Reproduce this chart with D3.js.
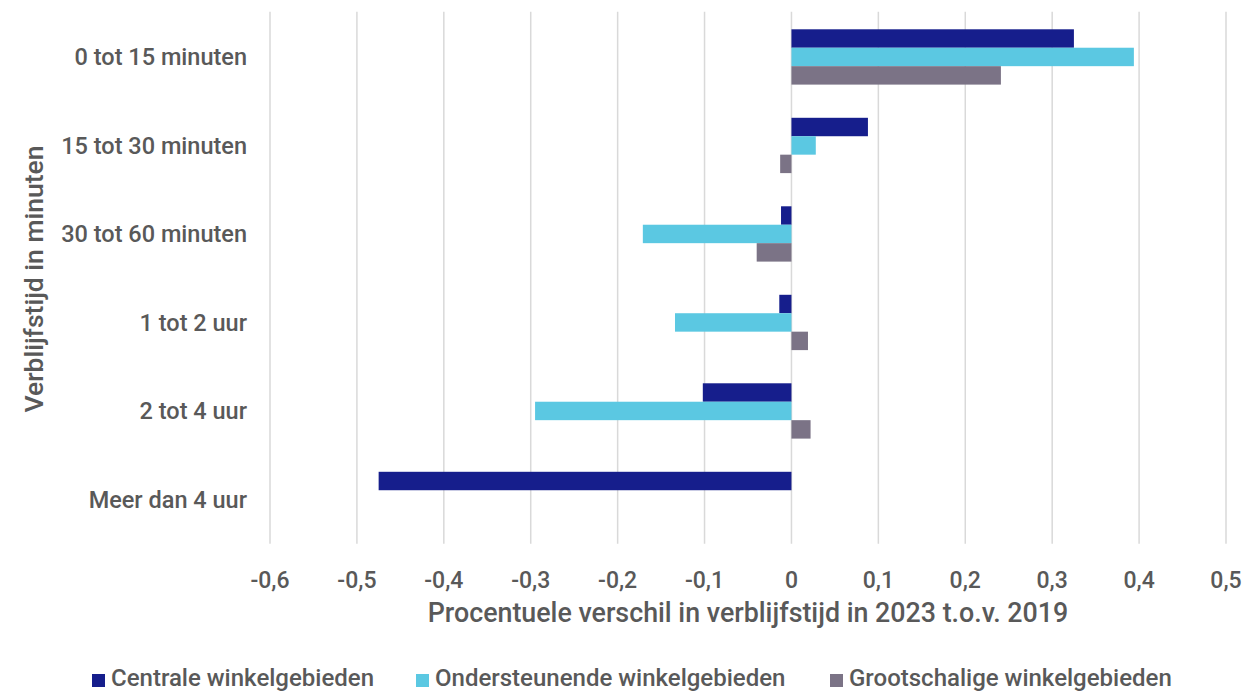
<!DOCTYPE html>
<html>
<head>
<meta charset="utf-8">
<script src="https://cdn.jsdelivr.net/npm/d3@7"></script>
<style>
  body { margin: 0; background: #fff; }
  svg { display: block; font-family: Roboto, "Noto Sans", sans-serif; font-weight: 500; }
</style>
</head>
<body>
<svg id="chart" width="1245" height="692"></svg>
<script>
// categories (top to bottom)
var categories = ["0 tot 15 minuten", "15 tot 30 minuten", "30 tot 60 minuten", "1 tot 2 uur", "2 tot 4 uur", "Meer dan 4 uur"];
var seriesNames = ["Centrale winkelgebieden", "Ondersteunende winkelgebieden", "Grootschalige winkelgebieden"];
var seriesColors = ["#161e8c", "#5bc8e2", "#7b7386"];
// values per series, same order as categories (null = no bar)
var centrale = [0.325, 0.088, -0.012, -0.014, -0.102, -0.475];
var ondersteunende = [0.394, 0.028, -0.171, -0.134, -0.295, null];
var grootschalig = [0.241, -0.013, -0.040, 0.019, 0.022, null];
var xTicks = [-0.6, -0.5, -0.4, -0.3, -0.2, -0.1, 0, 0.1, 0.2, 0.3, 0.4, 0.5];

var allSeries = [centrale, ondersteunende, grootschalig];

var svg = d3.select("#chart");
var textColor = "#595959";

var plotTop = 12.7, plotBottom = 543.7;
var x = d3.scaleLinear().domain([-0.6, 0.5]).range([270, 1226]);

var y0 = d3.scaleBand()
  .domain(categories)
  .range([plotTop, plotBottom])
  .paddingInner(0.375)
  .paddingOuter(0.1875);

var y1 = d3.scaleBand()
  .domain(d3.range(seriesNames.length))
  .range([0, y0.bandwidth()]);

// dutch style numbers, plain hyphen as minus
var fmt = function (d) {
  if (d === 0) return "0";
  return (d < 0 ? "-" : "") + Math.abs(d).toFixed(1).replace(".", ",");
};

// gridlines
svg.append("g")
  .selectAll("line")
  .data(xTicks)
  .enter().append("line")
  .attr("x1", function (d) { return x(d); })
  .attr("x2", function (d) { return x(d); })
  .attr("y1", plotTop - 1)
  .attr("y2", plotBottom)
  .attr("stroke", "#d9d9d9")
  .attr("stroke-width", 1.5);

// bars
var rows = [];
categories.forEach(function (c, i) {
  allSeries.forEach(function (s, j) {
    if (s[i] !== null) rows.push({cat: c, series: j, value: s[i]});
  });
});

svg.append("g")
  .selectAll("rect")
  .data(rows)
  .enter().append("rect")
  .attr("x", function (d) { return x(Math.min(0, d.value)); })
  .attr("width", function (d) { return Math.abs(x(d.value) - x(0)); })
  .attr("y", function (d) { return y0(d.cat) + y1(d.series); })
  .attr("height", y1.bandwidth())
  .attr("fill", function (d) { return seriesColors[d.series]; });

// x tick labels
svg.append("g")
  .selectAll("text")
  .data(xTicks)
  .enter().append("text")
  .attr("x", function (d) { return x(d); })
  .attr("y", 588)
  .attr("text-anchor", "middle")
  .attr("font-size", 23)
  .attr("fill", textColor)
  .text(fmt);

// category labels
svg.append("g")
  .selectAll("text")
  .data(categories)
  .enter().append("text")
  .attr("x", 247)
  .attr("y", function (d) { return y0(d) + y0.bandwidth() / 2; })
  .attr("dy", "0.35em")
  .attr("text-anchor", "end")
  .attr("font-size", 23.5)
  .attr("fill", textColor)
  .text(function (d) { return d; });

// axis titles
svg.append("text")
  .attr("x", (x(-0.6) + x(0.5)) / 2)
  .attr("y", 622)
  .attr("text-anchor", "middle")
  .attr("font-size", 26.8)
  .attr("fill", textColor)
  .text("Procentuele verschil in verblijfstijd in 2023 t.o.v. 2019");

svg.append("text")
  .attr("transform", "translate(43,279) rotate(-90)")
  .attr("text-anchor", "middle")
  .attr("font-size", 26.5)
  .attr("fill", textColor)
  .text("Verblijfstijd in minuten");

// legend
var legendX = [92, 416, 830];
var legend = svg.append("g")
  .selectAll("g")
  .data(seriesNames)
  .enter().append("g")
  .attr("transform", function (d, i) { return "translate(" + legendX[i] + ",0)"; });

legend.append("rect")
  .attr("x", 0)
  .attr("y", 674)
  .attr("width", 13)
  .attr("height", 13)
  .attr("fill", function (d, i) { return seriesColors[i]; });

legend.append("text")
  .attr("x", 19)
  .attr("y", 686)
  .attr("font-size", 24)
  .attr("fill", textColor)
  .text(function (d) { return d; });
</script>
</body>
</html>
